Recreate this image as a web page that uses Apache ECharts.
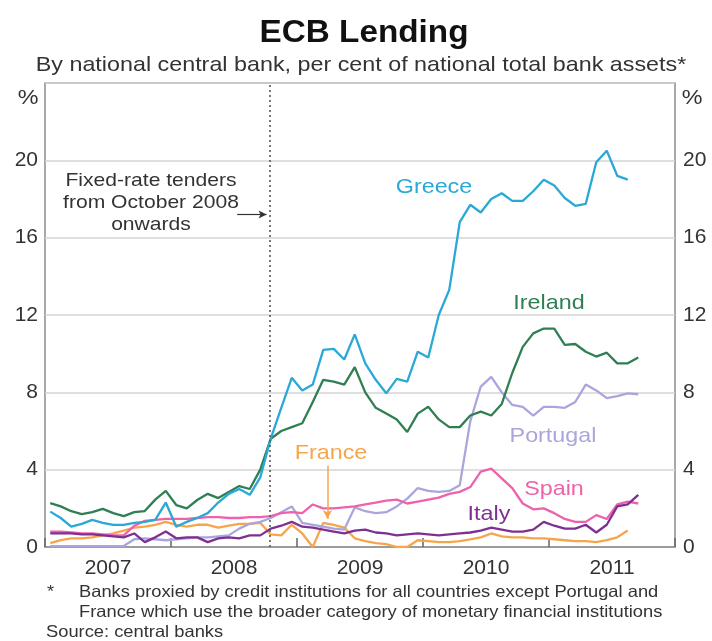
<!DOCTYPE html>
<html>
<head>
<meta charset="utf-8">
<script src="https://cdn.jsdelivr.net/npm/echarts@6/dist/echarts.min.js"></script>
<style>
html,body{margin:0;padding:0;background:#fff;}
#chart{width:712px;height:641px;}
</style>
</head>
<body>
<div id="chart"></div>
<script>
// Monthly observations, starting January 2007 (index 0)
var startYear = 2007;
var yearLabels = ['2007', '2008', '2009', '2010', '2011'];
var yTicks = [0, 4, 8, 12, 16, 20];

var greece = [1.83, 1.5, 1.05, 1.2, 1.4, 1.25, 1.14, 1.14, 1.25, 1.3, 1.4, 2.3,
  1.05, 1.3, 1.5, 1.75, 2.3, 2.75, 3.0, 2.7, 3.6, 5.6, 7.2, 8.75,
  8.1, 8.4, 10.2, 10.25, 9.7, 11.0, 9.5, 8.65, 7.95, 8.7, 8.55, 10.1,
  9.8, 12.0, 13.3, 16.8, 17.7, 17.3, 18.0, 18.3, 17.9, 17.9, 18.4, 19.0,
  18.7, 18.05, 17.65, 17.75, 19.9, 20.5, 19.2, 19.0];
var ireland = [2.27, 2.1, 1.85, 1.7, 1.8, 1.97, 1.75, 1.6, 1.8, 1.86, 2.45, 2.9,
  2.17, 2.0, 2.43, 2.75, 2.53, 2.85, 3.15, 3.0, 4.0, 5.6, 6.0, 6.2,
  6.4, 7.5, 8.65, 8.55, 8.4, 9.3, 8.0, 7.2, 6.9, 6.6, 5.95, 6.9,
  7.25, 6.6, 6.2, 6.2, 6.8, 7.0, 6.8, 7.4, 9.0, 10.35, 11.05, 11.3,
  11.3, 10.45, 10.5, 10.1, 9.85, 10.05, 9.5, 9.5, 9.8];
var portugal = [0.05, 0.05, 0.05, 0.05, 0.05, 0.05, 0.05, 0.05, 0.4, 0.45, 0.4, 0.35,
  0.4, 0.45, 0.5, 0.5, 0.55, 0.6, 0.95, 1.2, 1.3, 1.5, 1.8, 2.1,
  1.25, 1.15, 1.05, 0.95, 0.9, 2.05, 1.85, 1.75, 1.8, 2.1, 2.5, 3.05,
  2.9, 2.85, 2.9, 3.2, 6.5, 8.3, 8.8, 8.0, 7.35, 7.25, 6.8, 7.25,
  7.25, 7.2, 7.5, 8.4, 8.1, 7.7, 7.8, 7.95, 7.9];
var spain = [0.8, 0.8, 0.75, 0.7, 0.7, 0.65, 0.6, 0.6, 1.1, 1.35, 1.4, 1.45,
  1.45, 1.45, 1.5, 1.55, 1.55, 1.5, 1.5, 1.55, 1.55, 1.6, 1.75, 1.8,
  1.75, 2.2, 2.0, 2.0, 2.05, 2.1, 2.2, 2.3, 2.4, 2.45, 2.25, 2.35,
  2.45, 2.55, 2.75, 2.85, 3.1, 3.9, 4.05, 3.55, 3.05, 2.25, 1.95, 2.0,
  1.75, 1.45, 1.3, 1.3, 1.65, 1.45, 2.2, 2.35, 2.25];
var italy = [0.7, 0.7, 0.7, 0.65, 0.65, 0.6, 0.55, 0.5, 0.7, 0.25, 0.5, 0.8,
  0.45, 0.5, 0.5, 0.25, 0.45, 0.5, 0.45, 0.6, 0.6, 0.95, 1.1, 1.3,
  1.05, 1.0, 0.9, 0.8, 0.7, 0.85, 0.9, 0.75, 0.7, 0.6, 0.65, 0.7,
  0.65, 0.6, 0.65, 0.7, 0.75, 0.85, 1.0, 0.9, 0.8, 0.8, 0.9, 1.3,
  1.1, 0.95, 0.95, 1.15, 0.75, 1.15, 2.1, 2.2, 2.7];
var france = [0.2, 0.35, 0.45, 0.45, 0.5, 0.6, 0.7, 0.85, 1.0, 1.05, 1.15, 1.3,
  1.15, 1.05, 1.15, 1.15, 1.0, 1.1, 1.2, 1.2, 1.25, 0.65, 0.6, 1.15,
  0.7, 0.0, 1.25, 1.15, 1.0, 0.45, 0.3, 0.2, 0.15, 0.0, 0.0, 0.35,
  0.3, 0.25, 0.25, 0.3, 0.4, 0.5, 0.7, 0.55, 0.5, 0.5, 0.45, 0.45,
  0.4, 0.35, 0.3, 0.3, 0.25, 0.35, 0.5, 0.85];

// event: fixed-rate tenders from October 2008 (months since Jan 2007)
var fixedRateMonth = 21.4;

var FONT = '"Liberation Sans", Arial, sans-serif';
var TXT = '#333333';
var SX = 1.11; // horizontal stretch of the reference lettering

function toXY(arr) {
  return arr.map(function (v, i) { return [i + 0.5, v]; });
}
function lineSeries(name, arr, color, extra) {
  var s = {
    name: name, type: 'line', data: toXY(arr), showSymbol: false, symbol: 'none',
    lineStyle: { color: color, width: 2.3 }, itemStyle: { color: color },
    animation: false, z: 3
  };
  for (var k in extra) s[k] = extra[k];
  return s;
}
function txt(x, y, text, size, color, align, extraStyle) {
  var st = { text: text, font: size + 'px ' + FONT, fill: color, textAlign: align || 'center', textVerticalAlign: 'middle' };
  for (var k in extraStyle) st[k] = extraStyle[k];
  return { type: 'text', x: x, y: y, scaleX: SX, style: st, z: 10 };
}

var chart = echarts.init(document.getElementById('chart'), null, { renderer: 'canvas' });

var option = {
  backgroundColor: '#ffffff',
  animation: false,
  grid: { left: 45, right: 37, top: 83, bottom: 94, show: true, borderColor: '#8c8c8c', borderWidth: 1.5, backgroundColor: 'transparent' },
  xAxis: [
    {
      type: 'value', min: 0, max: 60, interval: 12, position: 'bottom',
      axisLine: { show: true, lineStyle: { color: '#8c8c8c', width: 1.5 } },
      axisTick: { show: true, inside: true, length: 9, lineStyle: { color: '#666', width: 1.5 } },
      axisLabel: { show: false },
      splitLine: { show: false }
    },
    {
      type: 'value', min: 0, max: 60, interval: 6, position: 'bottom',
      axisLine: { show: false }, axisTick: { show: false }, splitLine: { show: false },
      axisLabel: {
        show: true, margin: 11, color: TXT, fontFamily: FONT, fontSize: 21,
        formatter: function (v) {
          if (v % 12 === 6) { return yearLabels[(v - 6) / 12] || ''; }
          return '';
        }
      }
    }
  ],
  yAxis: [
    {
      type: 'value', min: 0, max: 24, interval: 4, position: 'left',
      axisLine: { show: false }, axisTick: { show: false },
      axisLabel: { color: TXT, fontFamily: FONT, fontSize: 21, margin: 7,
        formatter: function (v) { return yTicks.indexOf(v) >= 0 ? String(v) : ''; } },
      splitLine: { show: true, lineStyle: { color: '#d4d4d4', width: 1.5 } }
    },
    {
      type: 'value', min: 0, max: 24, interval: 4, position: 'right',
      axisLine: { show: false }, axisTick: { show: false },
      axisLabel: { color: TXT, fontFamily: FONT, fontSize: 21, margin: 8,
        formatter: function (v) { return yTicks.indexOf(v) >= 0 ? String(v) : ''; } },
      splitLine: { show: false }
    }
  ],
  series: [
    lineSeries('France', france, '#f7a54d', {
      markLine: {
        silent: true, symbol: ['none', 'arrow'], symbolSize: [7, 9], animation: false,
        label: { show: false },
        lineStyle: { color: '#f7a54d', width: 1.5, type: 'solid' },
        data: [[{ coord: [26.9, 4.2] }, { coord: [26.9, 1.45] }]]
      }
    }),
    lineSeries('Portugal', portugal, '#aaa6dd'),
    lineSeries('Spain', spain, '#ee62ab'),
    lineSeries('Italy', italy, '#7f2f92'),
    lineSeries('Ireland', ireland, '#2f7f52'),
    lineSeries('Greece', greece, '#2aa8d6', {
      markLine: {
        silent: true, animation: false, symbol: 'none',
        label: { show: false },
        data: [
          { xAxis: fixedRateMonth, lineStyle: { color: '#555', width: 1.6, type: [2, 3] } },
          [{ coord: [18.3, 17.2], symbol: 'none', lineStyle: { color: '#333', width: 1.2, type: 'solid' } },
           { coord: [21.1, 17.2], symbol: 'arrow', symbolSize: [6, 8] }]
        ]
      }
    })
  ],
  graphic: [
    { type: 'text', x: 364, y: 33, scaleX: 1.04, z: 10, style: { text: 'ECB Lending', font: 'bold 32px ' + FONT, fill: '#111', textAlign: 'center', textVerticalAlign: 'middle' } },
    txt(361, 65, 'By national central bank, per cent of national total bank assets*', 21, TXT),
    txt(28, 98, '%', 21, TXT),
    txt(692, 98, '%', 21, TXT),
    txt(151, 181, 'Fixed-rate tenders', 19, TXT),
    txt(151, 203, 'from October 2008', 19, TXT),
    txt(151, 225, 'onwards', 19, TXT),
    txt(434, 187, 'Greece', 21, '#2aa8d6'),
    txt(549, 303, 'Ireland', 21, '#2f7f52'),
    txt(553, 436, 'Portugal', 21, '#aaa6dd'),
    txt(554, 489, 'Spain', 21, '#ee62ab'),
    txt(489, 514, 'Italy', 21, '#7f2f92'),
    txt(331, 453, 'France', 21, '#f7a54d'),
    txt(47, 592, '*', 16.5, TXT, 'left'),
    txt(79, 592, 'Banks proxied by credit institutions for all countries except Portugal and', 16.5, TXT, 'left'),
    txt(79, 612, 'France which use the broader category of monetary financial institutions', 16.5, TXT, 'left'),
    txt(46, 632, 'Source: central banks', 16.5, TXT, 'left')
  ]
};
chart.setOption(option);
</script>
</body>
</html>
